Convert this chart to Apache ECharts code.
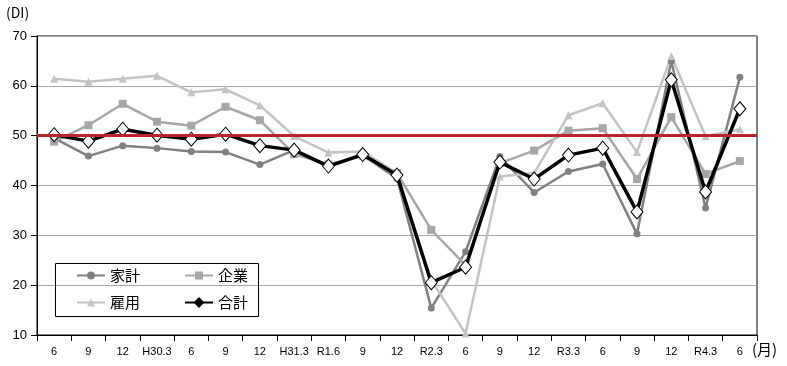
<!DOCTYPE html>
<html>
<head>
<meta charset="utf-8">
<script src="https://cdn.jsdelivr.net/npm/echarts@6/dist/echarts.min.js"></script>
<style>html,body{margin:0;padding:0;background:#fff;}#c{width:787px;height:366px;}</style>
</head>
<body>
<div id="c"></div>
<script>
const categories = ['6','9','12','H30.3','6','9','12','H31.3','R1.6','9','12','R2.3','6','9','12','R3.3','6','9','12','R4.3','6'];
const kakei  = [49.5, 45.9, 48.0, 47.5, 46.8, 46.7, 44.2, 47.1, 43.8, 46.1, 41.4, 15.4, 26.7, 45.8, 38.6, 42.8, 44.3, 30.3, 65.0, 35.5, 61.7];
const kigyo  = [48.8, 52.1, 56.4, 52.8, 52.0, 55.8, 53.1, 46.3, 44.2, 46.0, 42.5, 31.1, 24.0, 44.5, 47.0, 51.0, 51.5, 41.3, 53.7, 42.3, 44.9];
const koyo   = [61.4, 60.8, 61.4, 62.0, 58.7, 59.3, 56.1, 49.9, 46.6, 46.8, 42.5, 21.0, 10.3, 41.8, 42.5, 54.1, 56.5, 46.7, 66.0, 49.9, 51.3];
const gokei  = [50.2, 48.9, 51.3, 50.1, 49.3, 50.3, 48.0, 47.1, 43.9, 46.2, 42.1, 20.5, 23.6, 44.7, 41.3, 46.1, 47.5, 34.7, 61.2, 38.7, 55.4];
const yTicks = {min: 10, max: 70, interval: 10};
const baseLine = 50;

const font = 'Liberation Sans';
const jp = 'Noto Sans CJK JP';
const chart = echarts.init(document.getElementById('c'), null, {renderer: 'canvas'});
const legendText = {fontFamily: jp, fontSize: 15, color: '#000'};
chart.setOption({
  animation: false,
  backgroundColor: '#fff',
  grid: {left: 37, right: 30, top: 36, bottom: 31, show: true, borderColor: '#000', borderWidth: 1, containLabel: false},
  legend: [
    {data: ['家計', '企業'], left: 76, top: 268, itemWidth: 28, itemHeight: 10, itemGap: 44, textStyle: legendText, padding: 0},
    {data: ['雇用', {name: '合計', itemStyle: {color: '#000', borderColor: '#000'}}], left: 76, top: 295, itemWidth: 28, itemHeight: 10, itemGap: 44, textStyle: legendText, padding: 0}
  ],
  graphic: [
    {type: 'rect', shape: {x: 55.5, y: 263.5, width: 203, height: 53}, style: {fill: 'none', stroke: '#000', lineWidth: 1}, z: 100},
    {type: 'text', left: 6, top: 6, style: {text: '(DI)', fontFamily: jp, fontSize: 14, fill: '#000'}},
    {type: 'text', left: 752, top: 342, style: {text: '(月)', fontFamily: jp, fontSize: 15, fill: '#000'}}
  ],
  xAxis: {
    type: 'category', data: categories, boundaryGap: true,
    axisLine: {lineStyle: {color: '#000', width: 1}},
    axisTick: {show: true, length: 6, interval: 0, lineStyle: {color: '#000'}},
    axisLabel: {interval: 0, fontFamily: font, fontSize: 11, color: '#000', margin: 11}
  },
  yAxis: {
    type: 'value', min: yTicks.min, max: yTicks.max, interval: yTicks.interval,
    axisLine: {show: true, lineStyle: {color: '#000', width: 1}},
    axisTick: {show: true, length: 6, lineStyle: {color: '#000'}},
    axisLabel: {fontFamily: font, fontSize: 13, color: '#000', margin: 10},
    splitLine: {show: true, lineStyle: {color: '#a6a6a6', width: 1}}
  },
  series: [
    {name: '家計', type: 'line', data: kakei, symbol: 'circle', symbolSize: 7, z: 2,
     itemStyle: {color: '#808080'}, lineStyle: {color: '#808080', width: 2.5}},
    {name: '企業', type: 'line', data: kigyo, symbol: 'rect', symbolSize: 8, z: 2,
     itemStyle: {color: '#a6a6a6'}, lineStyle: {color: '#a6a6a6', width: 2.5}},
    {name: '雇用', type: 'line', data: koyo, symbol: 'triangle', symbolSize: 8, z: 2,
     itemStyle: {color: '#c3c3c3'}, lineStyle: {color: '#c3c3c3', width: 2.5}},
    {name: 'base', type: 'line', data: [], z: 3, silent: true,
     markLine: {silent: true, symbol: ['none', 'none'], label: {show: false},
       lineStyle: {color: '#b8252b', width: 3, type: 'solid'},
       data: [{yAxis: baseLine}]}},
    {name: '合計', type: 'line', data: gokei, symbol: 'diamond', symbolSize: [12, 14], z: 4,
     itemStyle: {color: '#fff', borderColor: '#000', borderWidth: 1}, lineStyle: {color: '#000', width: 3.5}}
  ]
});
</script>
</body>
</html>
